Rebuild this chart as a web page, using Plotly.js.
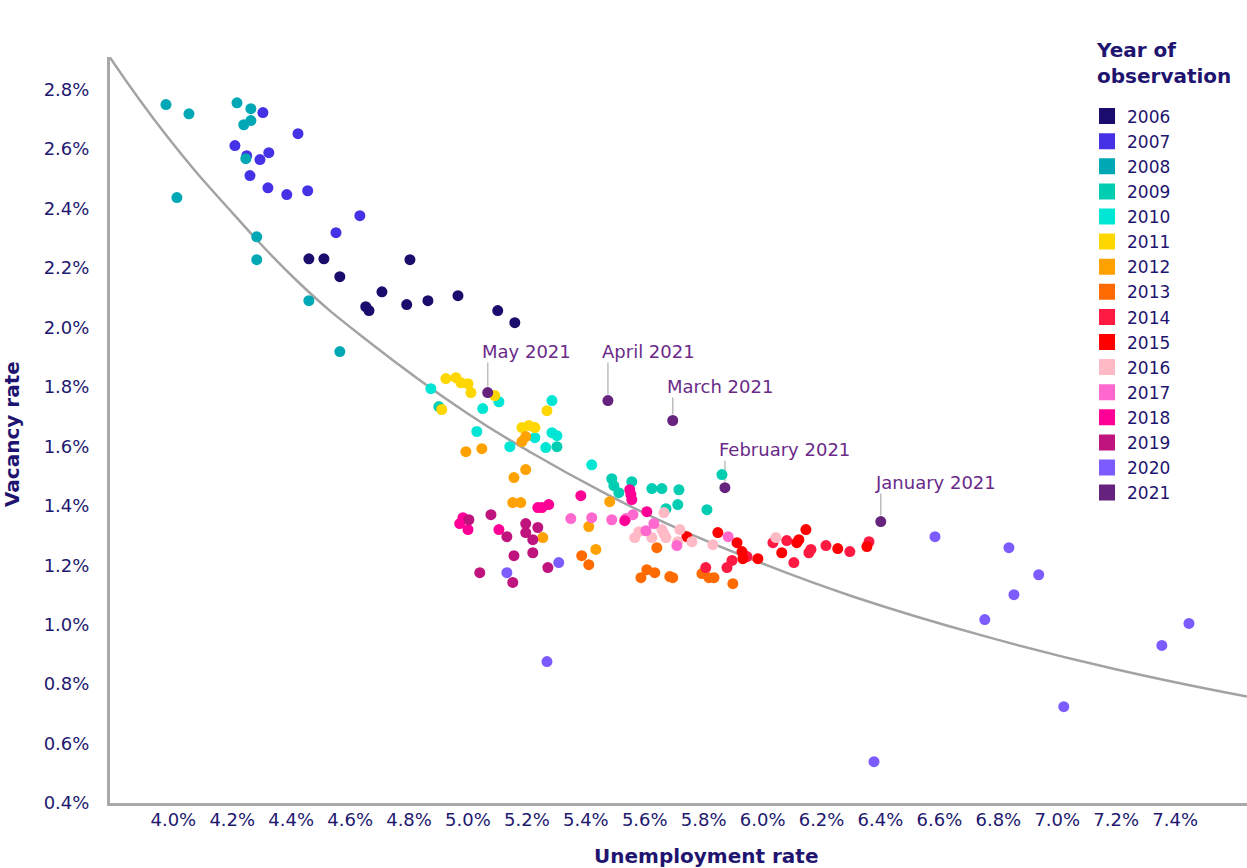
<!DOCTYPE html>
<html>
<head>
<meta charset="utf-8">
<script src="https://cdn.plot.ly/plotly-3.0.1.min.js"></script>
<style>
  html, body { margin: 0; padding: 0; background: #fff; }
  #chart { width: 1247px; height: 868px; }
</style>
</head>
<body>
<div id="chart"></div>
<script>
// ---------- DATA (unemployment rate %, vacancy rate %) ----------
const years = ['2006','2007','2008','2009','2010','2011','2012','2013','2014','2015','2016','2017','2018','2019','2020','2021'];

const u2006 = [4.460, 4.511, 4.565, 4.653, 4.664, 4.708, 4.792, 4.803, 4.864, 4.966, 5.101, 5.159];
const v2006 = [2.231, 2.231, 2.171, 2.070, 2.057, 2.120, 2.077, 2.228, 2.090, 2.107, 2.057, 2.016];

const u2007 = [4.304, 4.423, 4.209, 4.249, 4.324, 4.294, 4.260, 4.321, 4.385, 4.456, 4.633, 4.552];
const v2007 = [2.723, 2.652, 2.612, 2.578, 2.588, 2.565, 2.511, 2.470, 2.447, 2.460, 2.376, 2.319];

const u2008 = [3.975, 4.053, 4.012, 4.216, 4.263, 4.239, 4.263, 4.246, 4.283, 4.283, 4.460, 4.565];
const v2008 = [2.750, 2.719, 2.437, 2.756, 2.736, 2.682, 2.696, 2.568, 2.305, 2.228, 2.090, 1.919];

const u2009 = [4.901, 5.302, 5.488, 5.495, 5.512, 5.556, 5.624, 5.658, 5.716, 5.672, 5.712, 5.811, 5.862];
const v2009 = [1.734, 1.599, 1.491, 1.468, 1.444, 1.481, 1.458, 1.458, 1.454, 1.390, 1.404, 1.387, 1.505];

const u2010 = [4.874, 5.050, 5.105, 5.285, 5.030, 5.142, 5.227, 5.264, 5.285, 5.302, 5.420];
const v2010 = [1.794, 1.727, 1.750, 1.754, 1.650, 1.599, 1.629, 1.596, 1.646, 1.636, 1.538];

const u2011 = [4.925, 4.959, 4.976, 5.000, 5.010, 5.091, 4.911, 5.268, 5.183, 5.207, 5.227];
const v2011 = [1.828, 1.831, 1.814, 1.811, 1.781, 1.771, 1.724, 1.720, 1.663, 1.670, 1.663];

const u2012 = [4.993, 5.047, 5.183, 5.196, 5.156, 5.196, 5.152, 5.179, 5.254, 5.410, 5.481, 5.434];
const v2012 = [1.582, 1.592, 1.616, 1.633, 1.495, 1.522, 1.411, 1.411, 1.293, 1.330, 1.414, 1.253];

const u2013 = [5.386, 5.410, 5.641, 5.587, 5.607, 5.634, 5.685, 5.695, 5.794, 5.818, 5.835, 5.899];
const v2013 = [1.232, 1.202, 1.259, 1.158, 1.185, 1.175, 1.162, 1.158, 1.172, 1.158, 1.158, 1.138];

const u2014 = [5.807, 5.879, 5.896, 5.947, 6.035, 6.082, 6.106, 6.157, 6.164, 6.215, 6.296, 6.361];
const v2014 = [1.192, 1.192, 1.216, 1.229, 1.276, 1.283, 1.209, 1.242, 1.253, 1.266, 1.246, 1.279];

const u2015 = [5.743, 5.848, 5.913, 5.930, 5.933, 5.984, 6.065, 6.116, 6.123, 6.147, 6.255, 6.354];
const v2015 = [1.296, 1.310, 1.276, 1.246, 1.222, 1.222, 1.242, 1.276, 1.286, 1.320, 1.256, 1.263];

const u2016 = [5.566, 5.580, 5.624, 5.658, 5.665, 5.672, 5.665, 5.719, 5.712, 5.760, 5.831, 6.045];
const v2016 = [1.293, 1.313, 1.293, 1.320, 1.306, 1.293, 1.377, 1.320, 1.279, 1.279, 1.269, 1.293];

const u2017 = [5.349, 5.420, 5.488, 5.536, 5.560, 5.604, 5.631, 5.709, 5.883];
const v2017 = [1.357, 1.360, 1.353, 1.357, 1.370, 1.316, 1.340, 1.266, 1.296];

const u2018 = [4.983, 4.972, 5.000, 5.105, 5.237, 5.251, 5.274, 5.383, 5.549, 5.553, 5.556, 5.607, 5.532];
const v2018 = [1.360, 1.340, 1.320, 1.320, 1.394, 1.394, 1.404, 1.434, 1.454, 1.438, 1.421, 1.380, 1.350];

const u2019 = [5.003, 5.078, 5.132, 5.196, 5.196, 5.237, 5.220, 5.156, 5.220, 5.040, 5.152, 5.271];
const v2019 = [1.353, 1.370, 1.296, 1.340, 1.310, 1.327, 1.286, 1.232, 1.242, 1.175, 1.142, 1.192];

const u2020 = [5.308, 5.132, 5.268, 6.585, 6.836, 6.937, 6.853, 6.754, 7.447, 7.355, 7.022, 6.378];
const v2020 = [1.209, 1.175, 0.876, 1.296, 1.259, 1.168, 1.101, 1.017, 1.004, 0.930, 0.724, 0.539];

const u2021 = [6.401, 5.872, 5.695, 5.475, 5.067];
const v2021 = [1.347, 1.461, 1.687, 1.754, 1.781];
const months2021 = ['January 2021', 'February 2021', 'March 2021', 'April 2021', 'May 2021'];

// Fitted curve
const curveU = [3.785, 3.978, 4.202, 4.429, 4.657, 4.996, 5.220, 5.448, 5.675, 5.991, 6.306, 6.747, 7.202, 7.644];
const curveV = [2.908, 2.644, 2.384, 2.148, 1.957, 1.712, 1.576, 1.451, 1.340, 1.209, 1.095, 0.963, 0.849, 0.758];

// Tick labels
const xTickVals = [4.0, 4.2, 4.4, 4.6, 4.8, 5.0, 5.2, 5.4, 5.6, 5.8, 6.0, 6.2, 6.4, 6.6, 6.8, 7.0, 7.2, 7.4];
const xTickText = ['4.0%','4.2%','4.4%','4.6%','4.8%','5.0%','5.2%','5.4%','5.6%','5.8%','6.0%','6.2%','6.4%','6.6%','6.8%','7.0%','7.2%','7.4%'];
const yTickVals = [0.4, 0.6, 0.8, 1.0, 1.2, 1.4, 1.6, 1.8, 2.0, 2.2, 2.4, 2.6, 2.8];
const yTickText = ['0.4%','0.6%','0.8%','1.0%','1.2%','1.4%','1.6%','1.8%','2.0%','2.2%','2.4%','2.6%','2.8%'];

// ---------- STYLE ----------
const yearColors = {
  '2006': '#1A0C6D', '2007': '#4532E6', '2008': '#00A8B5', '2009': '#00CDB2',
  '2010': '#00E6D4', '2011': '#FFD700', '2012': '#FFA200', '2013': '#FF6B00',
  '2014': '#FF1A44', '2015': '#FF0000', '2016': '#FFBAC6', '2017': '#FF69CF',
  '2018': '#FF0096', '2019': '#BF137E', '2020': '#7C5CFF', '2021': '#65237E'
};
const seriesU = {'2006':u2006,'2007':u2007,'2008':u2008,'2009':u2009,'2010':u2010,'2011':u2011,'2012':u2012,'2013':u2013,'2014':u2014,'2015':u2015,'2016':u2016,'2017':u2017,'2018':u2018,'2019':u2019,'2020':u2020,'2021':u2021};
const seriesV = {'2006':v2006,'2007':v2007,'2008':v2008,'2009':v2009,'2010':v2010,'2011':v2011,'2012':v2012,'2013':v2013,'2014':v2014,'2015':v2015,'2016':v2016,'2017':v2017,'2018':v2018,'2019':v2019,'2020':v2020,'2021':v2021};

const NAVY = '#1F1570';
const TICK = '#22186F';
const LABEL_PURPLE = '#6A2A88';
const FONT = 'DejaVu Sans, Open Sans, sans-serif';
// label lift above point (px) for Jan..May 2021
const labelLift = [39, 38, 34, 49, 41];

const traces = [];
traces.push({
  x: curveU, y: curveV, type: 'scatter', mode: 'lines',
  line: {color: '#A3A3A3', width: 2.5, shape: 'spline', smoothing: 1.3},
  showlegend: false, hoverinfo: 'skip', cliponaxis: false
});
years.forEach(y => {
  traces.push({
    x: seriesU[y], y: seriesV[y], type: 'scatter', mode: 'markers', name: y,
    legendgroup: y, showlegend: false,
    marker: {color: yearColors[y], size: 11, line: {width: 0}},
    hovertemplate: y + '<br>Unemployment %{x:.1f}%<br>Vacancy %{y:.2f}%<extra></extra>'
  });
});
// legend entries (square swatches)
years.forEach(y => {
  traces.push({
    x: [null], y: [null], type: 'scatter', mode: 'markers', name: y,
    legendgroup: y, showlegend: true,
    marker: {color: yearColors[y], size: 16, symbol: 'square'}
  });
});

const annotations = [];
const shapes = [];
months2021.forEach((m, i) => {
  annotations.push({
    x: u2021[i], y: v2021[i], xref: 'x', yref: 'y', text: m, showarrow: false,
    xanchor: 'left', yanchor: 'middle', xshift: -8, yshift: labelLift[i],
    font: {family: FONT, size: 18, color: LABEL_PURPLE}
  });
  shapes.push({
    type: 'line', xref: 'x', yref: 'y', ysizemode: 'pixel', yanchor: v2021[i],
    x0: u2021[i], x1: u2021[i], y0: 6, y1: labelLift[i] - 11,
    line: {color: '#BDBDBD', width: 1.5}, layer: 'below'
  });
});
annotations.push({
  xref: 'paper', yref: 'paper', x: 0.8654, y: 1.028, xanchor: 'left', yanchor: 'top',
  align: 'left', showarrow: false, text: '<b>Year of</b><br><b>observation</b>',
  font: {family: FONT, size: 20, color: NAVY}
});
annotations.push({
  xref: 'paper', yref: 'paper', x: 0.5242, y: -0.071, xanchor: 'center', yanchor: 'middle',
  showarrow: false, text: '<b>Unemployment rate</b>',
  font: {family: FONT, size: 20, color: NAVY}
});
annotations.push({
  xref: 'paper', yref: 'paper', x: -0.0862, y: 0.4946, xanchor: 'center', yanchor: 'middle',
  showarrow: false, textangle: -90, text: '<b>Vacancy rate</b>',
  font: {family: FONT, size: 20, color: NAVY}
});

const layout = {
  width: 1247, height: 868,
  margin: {l: 110, r: 0, t: 57, b: 65},
  paper_bgcolor: '#fff', plot_bgcolor: '#fff',
  font: {family: FONT, color: TICK},
  xaxis: {
    range: [3.785, 7.644], showgrid: false, zeroline: false,
    showline: true, linecolor: '#A8A8A8', linewidth: 3,
    tickmode: 'array', tickvals: xTickVals, ticktext: xTickText,
    ticks: '', tickfont: {family: FONT, size: 18, color: TICK}, ticklabelstandoff: -2
  },
  yaxis: {
    range: [0.4, 2.91], showgrid: false, zeroline: false,
    showline: true, linecolor: '#A8A8A8', linewidth: 3,
    tickmode: 'array', tickvals: yTickVals, ticktext: yTickText,
    ticks: '', tickfont: {family: FONT, size: 18, color: TICK}, ticklabelstandoff: 14
  },
  showlegend: true,
  legend: {
    x: 0.8593, y: 0.9443, xanchor: 'left', yanchor: 'top',
    font: {family: FONT, size: 17, color: NAVY},
    bgcolor: 'rgba(0,0,0,0)', tracegroupgap: 0, itemclick: false, itemdoubleclick: false
  },
  annotations: annotations,
  shapes: shapes,
  hovermode: 'closest'
};

Plotly.newPlot('chart', traces, layout, {displayModeBar: false, staticPlot: false});
</script>
</body>
</html>
